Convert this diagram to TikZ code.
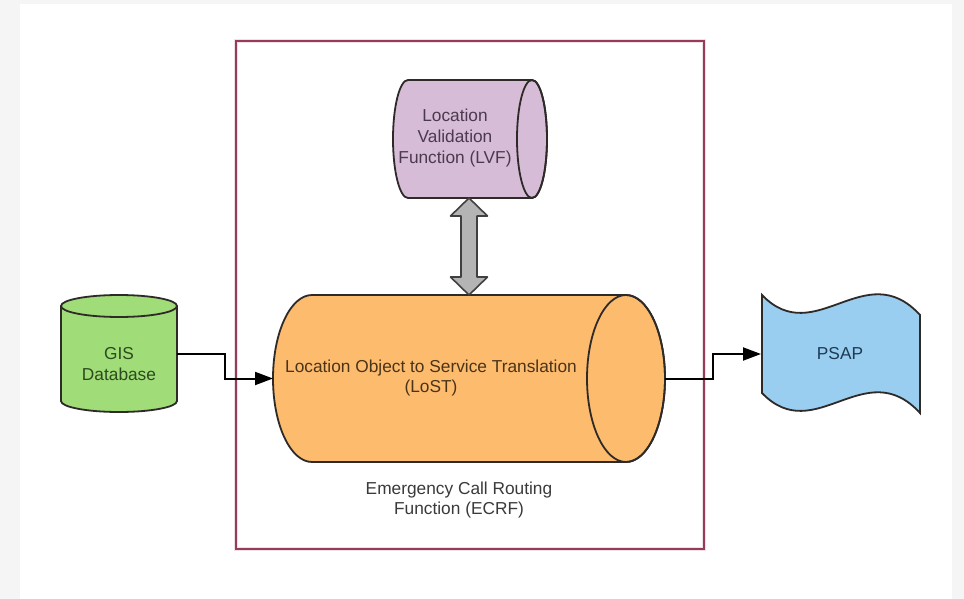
\documentclass[tikz,border=0pt]{standalone}
\usepackage{fontspec}
\setmainfont{Liberation Sans}
\usetikzlibrary{arrows.meta, calc}
\definecolor{pagegray}{HTML}{F5F5F5}
\definecolor{outline}{HTML}{2E2A28}
\definecolor{ecrfred}{HTML}{963C5A}
\definecolor{ecrftext}{HTML}{3A3A3A}
\definecolor{gisgreen}{HTML}{A0DC78}
\definecolor{gistext}{HTML}{2C4A1E}
\definecolor{lvfpurple}{HTML}{D6BCD6}
\definecolor{lvftext}{HTML}{4B3A4F}
\definecolor{lostorange}{HTML}{FDBB6E}
\definecolor{losttext}{HTML}{4A3418}
\definecolor{psapblue}{HTML}{99CEF0}
\definecolor{psaptext}{HTML}{1F3A52}
\definecolor{arrowgray}{HTML}{B4B4B4}
\definecolor{arrowedge}{HTML}{404040}
\begin{document}
\begin{tikzpicture}[x = 0.5pt, y = -0.5pt,
	shape line/.style = {draw = outline, line width = 0.9pt},
	hidden box/.style = {inner sep = 0pt, outer sep = 0pt},
	label text/.style = {align = center, font = \fontsize{8.65}{10.3}\selectfont},
	flow/.style = {line width = 1pt, -{Triangle[length = 9pt, width = 6.5pt]}}]
	\useasboundingbox (0, 0) rectangle (964, 599);
	\fill[pagegray] (0, 0) rectangle (964, 599);
	\fill[white] (20, 4) rectangle (952, 599);
	\node[hidden box, draw = ecrfred, line width = 1.1pt, preaction = {draw = ecrfred!15, line width = 1.8pt}, minimum width = 234pt, minimum height = 254pt] (ecrf) at (470, 295) {};
		\node[label text, text = ecrftext] (ecrflabel) at (459, 500) {Emergency Call Routing\\Function (ECRF)};
	\filldraw[shape line, fill = gisgreen] (61, 306) -- (61, 401) arc[start angle = 180, end angle = 0, x radius = 58, y radius = 11] -- (177, 306);
	\filldraw[shape line, fill = gisgreen] (119, 306) ellipse[x radius = 58, y radius = 11];
	\node[hidden box, minimum width = 58pt, minimum height = 58.5pt] (gis) at (119, 353.5) {};
		\node[label text, text = gistext] (gislabel) at (119, 364) {GIS\\Database};
	\filldraw[shape line, fill = lvfpurple] (408, 80) -- (532, 80) arc[start angle = -90, end angle = 90, x radius = 15, y radius = 59] -- (408, 198) arc[start angle = 90, end angle = 270, x radius = 15, y radius = 59] -- cycle;
	\draw[shape line] (532, 139) ellipse[x radius = 15, y radius = 59];
	\node[hidden box, minimum width = 77pt, minimum height = 59pt] (lvf) at (470, 139) {};
		\node[label text, text = lvftext] (lvflabel) at (455, 138) {Location\\Validation\\Function (LVF)};
	\filldraw[shape line, fill = lostorange] (312, 295) -- (626, 295) arc[start angle = -90, end angle = 90, x radius = 39, y radius = 83.5] -- (312, 462) arc[start angle = 90, end angle = 270, x radius = 39, y radius = 83.5] -- cycle;
	\draw[shape line] (626, 378.5) ellipse[x radius = 39, y radius = 83.5];
	\node[hidden box, minimum width = 196pt, minimum height = 83.5pt] (lost) at (469, 378.5) {};
		\node[label text, text = losttext] (lostlabel) at (431, 378) {Location Object to Service Translation\\(LoST)};
	\filldraw[draw = arrowedge, fill = arrowgray, line width = 0.8pt, line join = round] (lost.north |- lvf.south) -- ++(18.5, 18) -- ++(-10.5, 0) -- ++(0, 61) -- ++(10.5, 0) -- ++(-18.5, 18) -- ++(-18.5, -18) -- ++(10.5, 0) -- ++(0, -61) -- ++(-10.5, 0) -- cycle;
	\filldraw[shape line, fill = psapblue] (762, 295) .. controls (815, 350) and (865, 255) .. (920, 315) -- (920, 413) .. controls (865, 353) and (815, 448) .. (762, 393) -- cycle;
	\node[hidden box, label text, text = psaptext, minimum width = 79pt, minimum height = 59pt] (psap) at (840, 354) {PSAP};
	\draw[flow] (gis.east) -- ++(48, 0) |- (lost.west);
	\draw[flow] (lost.east) -- ++(48, 0) |- (psap.west);
\end{tikzpicture}
\end{document}
